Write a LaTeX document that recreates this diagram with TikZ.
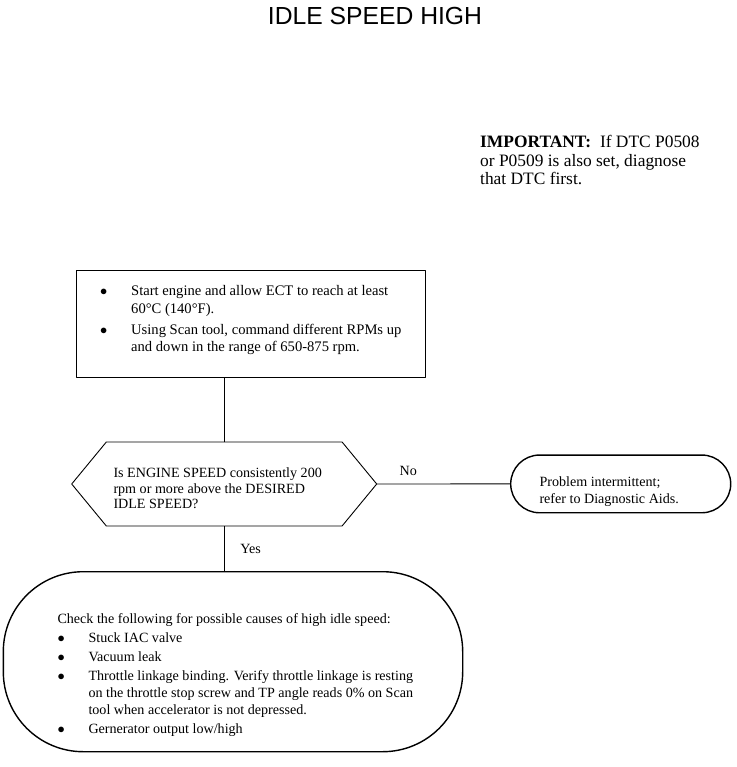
\documentclass[tikz,border=0pt]{standalone}
\usepackage{fontspec}
\setmainfont{Liberation Serif}
\newfontfamily\headsans{Liberation Sans}
\usetikzlibrary{shapes.symbols,shapes.misc,positioning}
\newcommand{\blt}{\makebox[31pt][l]{$\bullet$}}
\newcommand{\ind}{\hspace*{31pt}}
\tikzset{
  txt/.style={inner sep=0pt, align=left, anchor=north west, font=\fontsize{14.1}{17.3}\selectfont},
  lbl/.style={inner sep=0pt, font=\fontsize{14.1}{17}\selectfont},
  wire/.style={line width=0.9pt},
}

\begin{document}
\begin{tikzpicture}[x=1pt, y=-1pt, line cap=round, line join=round]
  \useasboundingbox (0,0) rectangle (736,767);
  % ---------- title ----------
  \node[inner sep=0pt, font=\headsans\fontsize{24.7}{28}\selectfont] (title) at (375,16.2) {IDLE SPEED HIGH};
  % ---------- important note ----------
  \node[txt, font=\fontsize{17.4}{18.8}\selectfont] (note) at (480,134.8)
    {\textbf{IMPORTANT:}\hspace{9pt}If DTC P0508\\or P0509 is also set, diagnose\\that DTC first.};
  % ---------- 1. start engine ----------
  \node[draw, line width=0.9pt, minimum width=349pt, minimum height=106.3pt, inner sep=0pt] (start) at (250.5,324) {};
  \node[txt, font=\fontsize{14.6}{17.8}\selectfont] (startTxt) at (100,285.1)
    {\blt Start engine and allow ECT to reach at least\\ \ind 60°C (140°F).\\[3pt]
     \blt Using Scan tool, command different RPMs up\\ \ind and down in the range of 650-875 rpm.};
  % ---------- 2. decision ----------
  \node[draw, signal, signal to=west and east, signal pointer angle=101, minimum width=305pt,
        minimum height=84pt, inner sep=0pt, line width=0.9pt] (ask) at (224.2,484) {};
  \node[txt, font=\fontsize{14.1}{15.4}\selectfont] (askTxt) at (113.3,467.7)
    {Is ENGINE SPEED consistently 200\\rpm or more above the DESIRED\\IDLE SPEED?};
  % ---------- 3. intermittent ----------
  \node[draw, rounded rectangle, minimum width=220pt, minimum height=57.7pt, inner sep=0pt, line width=1.4pt] (intm) at (620.7,483.9) {};
  \node[txt, font=\fontsize{14.1}{17.6}\selectfont] (intmTxt) at (539.3,476.1)
    {Problem intermittent;\\refer to Diagnostic Aids.};
  % ---------- 4. possible causes ----------
  \node[draw, rounded corners=80pt, minimum width=459.4pt, minimum height=180pt, inner sep=0pt, line width=1.4pt] (check) at (233,661.7) {};
  \node[txt] (checkTxt) at (57.3,613.4)
    {Check the following for possible causes of high idle speed:\\[1.7pt]
     \blt Stuck IAC valve\\[1.5pt]
     \blt Vacuum leak\\[1.5pt]
     \blt Throttle linkage binding. Verify throttle linkage is resting\\
     \ind on the throttle stop screw and TP angle reads 0\% on Scan\\
     \ind tool when accelerator is not depressed.\\[1.5pt]
     \blt Gernerator output low/high};
  % ---------- connectors ----------
  \draw[wire] (start.south -| ask.north) -- (ask.north);
  \draw[wire] (ask.east) -- node[lbl, pos=0.234, above=7.5pt] (noLbl) {No} (intm.west);
  \draw[wire] (ask.south) -- node[lbl, right=15.6pt] (yesLbl) {Yes} (ask.south |- check.north);
\end{tikzpicture}
\end{document}
